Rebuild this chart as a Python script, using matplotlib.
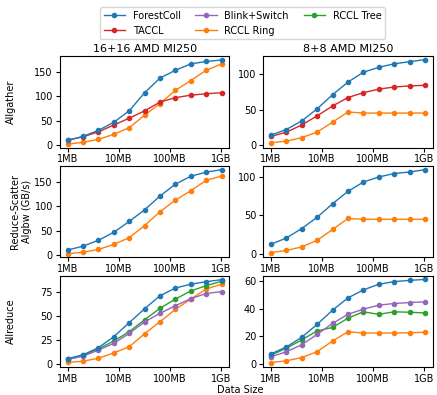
import matplotlib
matplotlib.use("Agg")
import matplotlib.pyplot as plt

sizes_mb = [1, 2, 4, 8, 16, 32, 64, 128, 256, 512, 1024]

# Allgather, 16+16 AMD MI250
ag16_forest = [9.6, 17.8, 30, 46.6, 70, 107, 137, 153, 166, 171, 174]
ag16_taccl = [10, 17, 27, 41, 55, 70, 88, 97, 102, 105, 107]
ag16_ring = [2, 5.5, 11.6, 22, 35.6, 61, 85, 112, 132, 153, 166]

# Allgather, 8+8 AMD MI250
ag8_forest = [13.6, 21.6, 33.8, 51, 71, 89, 103, 110, 115, 118, 121]
ag8_taccl = [11.7, 17.8, 28, 41, 55, 67, 74, 79, 82, 83.6, 84.5]
ag8_ring = [3, 5, 10, 18, 32, 46.5, 45, 45, 45, 45, 45]

# Reduce-Scatter
rs16_forest = [9.7, 18, 30, 46.5, 69, 93, 121.5, 146, 162.5, 171, 176]
rs16_ring = [2, 5.5, 11, 21.5, 35.4, 60.4, 89, 113, 132.6, 154, 163]
rs8_forest = [12.7, 20.8, 33, 47.5, 65, 81, 93, 99.6, 104, 106, 109]
rs8_ring = [2, 4.7, 9.3, 17.8, 31.8, 46, 45, 45, 45, 45, 45]

# Allreduce
ar16_forest = [5.5, 9.6, 17, 28.4, 43, 57.5, 71, 79, 83, 85.6, 87.7]
ar16_blink = [4.8, 8.2, 14.4, 21.6, 31.8, 43.8, 52.7, 60.6, 68, 73.3, 75.3]
ar16_ring = [1.7, 3, 6, 11.6, 18, 31.5, 44, 56.8, 67.5, 78, 83]
ar16_tree = [5, 9, 15.7, 24, 33.6, 46, 58, 67.5, 76, 81.5, 86]
ar8_forest = [7.4, 12.4, 19.4, 28.7, 39, 47.8, 53.6, 57.7, 59.6, 60.5, 61.2]
ar8_blink = [5.3, 9, 14, 21.5, 29.4, 36, 39.7, 42.6, 43.8, 44.5, 45]
ar8_ring = [1.2, 2.4, 4.8, 9, 16.7, 23.4, 22.5, 22.5, 22.5, 22.7, 23]
ar8_tree = [6.5, 11.5, 17.5, 24, 26.5, 33.2, 37.8, 36, 37.8, 37.5, 37]

colors = {
    "ForestColl": "tab:blue",
    "TACCL": "tab:red",
    "Blink+Switch": "tab:purple",
    "RCCL Ring": "tab:orange",
    "RCCL Tree": "tab:green",
}

panels = [
    [{"ForestColl": ag16_forest, "TACCL": ag16_taccl, "RCCL Ring": ag16_ring},
     {"ForestColl": ag8_forest, "TACCL": ag8_taccl, "RCCL Ring": ag8_ring}],
    [{"ForestColl": rs16_forest, "RCCL Ring": rs16_ring},
     {"ForestColl": rs8_forest, "RCCL Ring": rs8_ring}],
    [{"ForestColl": ar16_forest, "Blink+Switch": ar16_blink,
      "RCCL Ring": ar16_ring, "RCCL Tree": ar16_tree},
     {"ForestColl": ar8_forest, "Blink+Switch": ar8_blink,
      "RCCL Ring": ar8_ring, "RCCL Tree": ar8_tree}],
]
row_labels = ["Allgather", "Reduce-Scatter\nAlgbw (GB/s)", "Allreduce"]
label_x = [-0.26, -0.165, -0.26]
col_titles = ["16+16 AMD MI250", "8+8 AMD MI250"]
ylims = [[(-5, 182), (-4, 126)], [(-5, 184), (-4, 114)], [(-3, 92), (-2, 64)]]

plt.rcParams["font.size"] = 7
fig, axes = plt.subplots(3, 2, figsize=(4.37, 3.95), dpi=100)
fig.subplots_adjust(left=0.137, right=0.99, top=0.858, bottom=0.071,
                    wspace=0.2, hspace=0.2)

handles = {}
for r in range(3):
    for c in range(2):
        ax = axes[r, c]
        # forest drawn last so it sits on top
        for name in ["RCCL Ring", "RCCL Tree", "Blink+Switch", "TACCL", "ForestColl"]:
            if name in panels[r][c]:
                ln, = ax.plot(sizes_mb, panels[r][c][name], marker="o",
                              markersize=3, linewidth=1, color=colors[name],
                              label=name)
                handles[name] = ln
        ax.set_xscale("log")
        ax.set_xticks([1, 10, 100, 1000])
        ax.set_xticklabels(["1MB", "10MB", "100MB", "1GB"])
        ax.minorticks_off()
        ax.set_ylim(*ylims[r][c])
        ax.tick_params(length=3, pad=2)
        if r == 0:
            ax.set_title(col_titles[c], fontsize=8, pad=3)
        if c == 0:
            ax.set_ylabel(row_labels[r])
            ax.yaxis.set_label_coords(label_x[r], 0.5)

fig.text(0.55, 0.005, "Data Size", ha="center", fontsize=7)
order = ["ForestColl", "TACCL", "Blink+Switch", "RCCL Ring", "RCCL Tree"]
fig.legend([handles[n] for n in order], order, loc="upper center",
           bbox_to_anchor=(0.555, 0.995), ncol=3, fontsize=7,
           columnspacing=1.5, handlelength=2.2)

plt.savefig("out.png")
